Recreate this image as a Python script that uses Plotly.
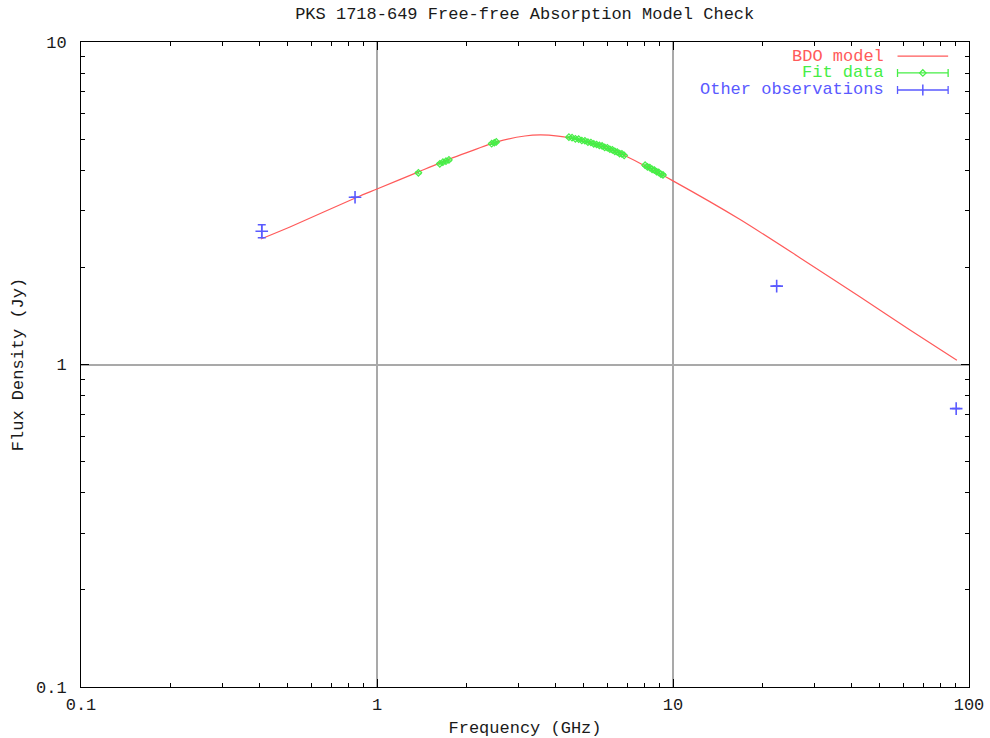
import plotly.graph_objects as go

# ---------------- data ----------------
model_freq = [0.405, 0.508, 0.856, 1.0, 1.375, 1.765, 2.0, 2.54, 3.16, 3.56, 4.09, 4.49,
              5.53, 6.78, 7.92, 10.0, 16.8, 26.9, 42.9, 63.2, 91.0]
model_flux = [2.45, 2.67, 3.30, 3.50, 3.95, 4.34, 4.53, 4.90, 5.11, 5.15, 5.11, 5.04,
              4.80, 4.47, 4.16, 3.71, 2.82, 2.14, 1.62, 1.28, 1.03]

fit_freq = [1.38, 1.63, 1.67, 1.71, 1.75, 2.44, 2.49, 2.53,
            4.45, 4.56, 4.68, 4.80, 4.92, 5.04, 5.16, 5.28, 5.40, 5.52, 5.64, 5.76,
            5.88, 6.00, 6.12, 6.24, 6.36, 6.48, 6.60, 6.72, 6.84,
            8.05, 8.20, 8.35, 8.50, 8.65, 8.80, 8.95, 9.10, 9.25]
fit_flux = [3.93, 4.19, 4.24, 4.27, 4.31, 4.84, 4.87, 4.90,
            5.07, 5.05, 5.01, 5.00, 4.95, 4.94, 4.89, 4.88, 4.83, 4.81, 4.78, 4.76,
            4.71, 4.70, 4.65, 4.63, 4.58, 4.56, 4.51, 4.50, 4.45,
            4.15, 4.10, 4.08, 4.03, 4.01, 3.96, 3.94, 3.89, 3.87]
fit_err = [0.03] * len(fit_freq)

other_freq = [0.408, 0.843, 22.4, 90.5]
other_flux = [2.59, 3.30, 1.75, 0.73]
other_err = [0.12, 0.0, 0.0, 0.0]

x_tickvals = [0.1, 1, 10, 100]
x_ticktext = ["0.1", "1", "10", "100"]
y_tickvals = [0.1, 1, 10]
y_ticktext = ["0.1", "1", "10"]

legend_names = ["BDO model", "Fit data", "Other observations"]

# ---------------- style ----------------
RED = "#ff5a5a"
GREEN = "#46ee46"
BLUE = "#5a5aff"
FONT = "Liberation Mono"
FS = 17
TXT = "#1a1a1a"

minor_x = [m * d for d in (0.1, 1, 10) for m in range(2, 10)]
minor_y = [m * d for d in (0.1, 1) for m in range(2, 10)]

fig = go.Figure()

fig.add_trace(go.Scatter(x=model_freq, y=model_flux, mode="lines",
                         line=dict(color=RED, width=1.2, shape="spline", smoothing=0.7),
                         showlegend=False, hoverinfo="skip"))

fig.add_trace(go.Scatter(x=fit_freq, y=fit_flux, mode="markers",
                         marker=dict(symbol="diamond-open", size=5, color=GREEN,
                                     line=dict(width=1.2, color=GREEN)),
                         error_y=dict(type="data", array=fit_err, visible=True,
                                      color=GREEN, thickness=1, width=3),
                         showlegend=False))

fig.add_trace(go.Scatter(x=other_freq, y=other_flux, mode="markers",
                         marker=dict(symbol="cross-thin", size=9, color=BLUE,
                                     line=dict(width=1.6, color=BLUE)),
                         error_y=dict(type="data", array=other_err, visible=True,
                                      color=BLUE, thickness=1.5, width=4),
                         showlegend=False))

# ---------------- custom gnuplot-style key (on overlay axes) ----------------
key_y = [0.978, 0.952, 0.9256]
key_x0, key_x1 = 0.9195, 0.9765
key_xm = (key_x0 + key_x1) / 2
key_half = (key_x1 - key_x0) / 2

fig.add_trace(go.Scatter(x=[key_x0, key_x1], y=[key_y[0]] * 2, mode="lines",
                         line=dict(color=RED, width=1.3), xaxis="x2", yaxis="y2",
                         showlegend=False, hoverinfo="skip"))
fig.add_trace(go.Scatter(x=[key_xm], y=[key_y[1]], mode="markers",
                         marker=dict(symbol="diamond-open", size=5, color=GREEN,
                                     line=dict(width=1.2, color=GREEN)),
                         error_x=dict(type="constant", value=key_half, visible=True,
                                      color=GREEN, thickness=1.3, width=4),
                         xaxis="x2", yaxis="y2", showlegend=False, hoverinfo="skip"))
fig.add_trace(go.Scatter(x=[key_xm], y=[key_y[2]], mode="markers",
                         marker=dict(symbol="line-ns", size=8, color=BLUE,
                                     line=dict(width=1.5, color=BLUE)),
                         error_x=dict(type="constant", value=key_half, visible=True,
                                      color=BLUE, thickness=1.3, width=4),
                         xaxis="x2", yaxis="y2", showlegend=False, hoverinfo="skip"))

for name, yk, col in zip(legend_names, key_y, [RED, GREEN, BLUE]):
    fig.add_annotation(x=0.905, y=yk, xref="paper", yref="paper", text=name,
                       showarrow=False, xanchor="right", yanchor="middle",
                       height=15, valign="middle", borderpad=0,
                       font=dict(family=FONT, size=FS, color=col))

axis_common = dict(type="log", ticks="inside", ticklen=8, tickwidth=1, tickcolor="black",
                   showline=True, linecolor="black", linewidth=1, mirror="ticks",
                   showgrid=True, gridcolor="#a9a9a9", gridwidth=1.5, zeroline=False,
                   tickmode="array", automargin=False,
                   tickfont=dict(family=FONT, size=FS, color=TXT))

fig.update_layout(
    width=990, height=738,
    margin=dict(l=81, r=21, t=42, b=51, autoexpand=False),
    paper_bgcolor="white", plot_bgcolor="white",
    showlegend=False,
    title=dict(text="PKS 1718-649 Free-free Absorption Model Check",
               x=0.53, xanchor="center", y=1 - 13 / 738, yanchor="middle",
               automargin=False,
               font=dict(family=FONT, size=FS, color=TXT)),
    xaxis=dict(axis_common, range=[-1, 2], tickvals=x_tickvals, ticktext=x_ticktext,
               ticklabelstandoff=2,
               minor=dict(tickmode="array", tickvals=minor_x, ticks="inside", ticklen=4,
                          tickcolor="black", showgrid=False),
               title=dict(text="Frequency (GHz)", standoff=25,
                          font=dict(family=FONT, size=FS, color=TXT))),
    yaxis=dict(axis_common, range=[-1, 1], tickvals=y_tickvals, ticktext=y_ticktext,
               ticklabelstandoff=10,
               minor=dict(tickmode="array", tickvals=minor_y, ticks="inside", ticklen=4,
                          tickcolor="black", showgrid=False),
               title=dict(text="Flux Density (Jy)", standoff=8,
                          font=dict(family=FONT, size=FS, color=TXT))),
    xaxis2=dict(overlaying="x", range=[0, 1], visible=False, anchor="y2"),
    yaxis2=dict(overlaying="y", range=[0, 1], visible=False, anchor="x2"),
)

fig.write_html("out.html", config={"displayModeBar": False},
               post_script="document.body.style.margin='0px';document.body.style.overflow='hidden';")
